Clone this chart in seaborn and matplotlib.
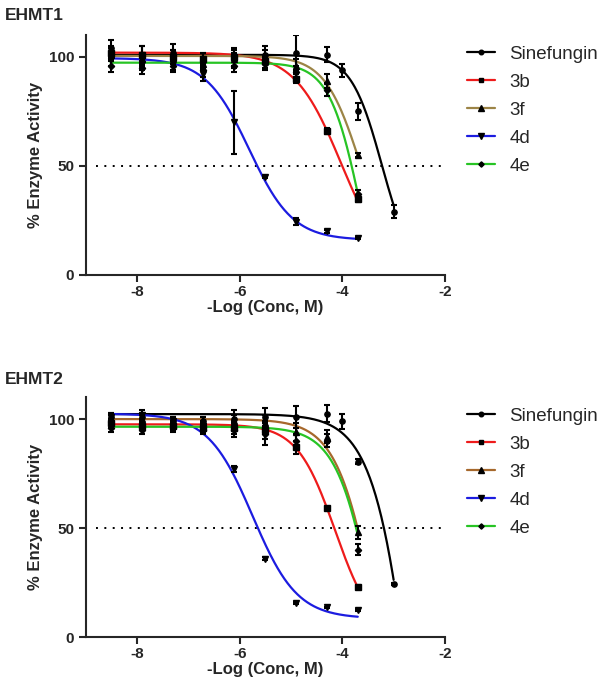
import seaborn as sns
import matplotlib.pyplot as plt
from matplotlib.lines import Line2D
import numpy as np
import pandas as pd

sns.set_style('ticks')
plt.rcParams['font.family'] = ['Liberation Sans', 'DejaVu Sans']

compounds = ['Sinefungin', '3b', '3f', '4d', '4e']
markers = ['o', 's', '^', 'v', 'D']
msizes = [3.8, 3.8, 4.2, 4.2, 3.2]

# log concentrations (M)
x_cmp = [-8.52, -7.91, -7.31, -6.71, -6.11, -5.51, -4.90, -4.30, -3.70]
x_sine = [-8.52, -7.91, -7.31, -6.71, -6.11, -5.51, -4.90, -4.30, -4.00, -3.70, -3.00]

# EHMT1 means / sd
e1_sine = [104, 100, 102, 98, 99, 101, 102, 101, 94, 75, 29]
e1_sine_sd = [4, 5, 4, 4, 4, 4, 8, 3.5, 3, 4, 3]
e1_3b = [102, 101, 100, 99, 100, 98, 90, 66, 35]
e1_3b_sd = [3, 4, 3, 3, 4, 3, 2, 1.5, 1.5]
e1_3f = [101, 99, 100, 97, 99, 100, 96, 89, 55]
e1_3f_sd = [3, 3, 3, 3, 3, 3, 3, 3, 1]
e1_4d = [99, 97, 97, 92, 70, 45, 24.5, 20, 17]
e1_4d_sd = [3, 3, 3, 3, 14.5, 0.5, 1.5, 0.8, 0.5]
e1_4e = [96, 95, 96, 94, 96, 97, 93, 85, 37]
e1_4e_sd = [3, 3, 3, 3, 3, 3, 3, 3, 2]

# EHMT2 means / sd
e2_sine = [101, 101, 99, 99, 100, 101, 101, 102.5, 99, 80.5, 24.5]
e2_sine_sd = [2, 2, 2, 2, 4, 4, 5, 4, 3.5, 1, 0.5]
e2_3b = [98, 97, 97, 96, 96, 95, 87, 59, 23]
e2_3b_sd = [2, 2, 2, 2, 3, 4, 3, 0.5, 0.8]
e2_3f = [100, 100, 99, 99, 99, 98, 94, 92, 48]
e2_3f_sd = [2, 2, 2, 2, 3, 4, 4, 3, 3]
e2_4d = [101, 102, 99, 97, 77, 36, 15.6, 13.6, 12.3]
e2_4d_sd = [2, 2, 2, 2, 1.5, 0.5, 0.3, 0.3, 0.5]
e2_4e = [96, 95, 96, 95, 95, 93, 90, 90, 40]
e2_4e_sd = [2, 2, 2, 2, 3, 5, 3, 3, 2.5]

# 4PL fit parameters (top, bottom, logIC50, hill)
e1_fit = {'Sinefungin': (101, 0, -3.23, 1.45), '3b': (102, 0, -4.02, 0.95),
          '3f': (100.5, 0, -3.64, 1.25), '4d': (99.5, 16, -5.82, 1.02),
          '4e': (97.4, -40, -3.62, 1.4)}
e2_fit = {'Sinefungin': (102.3, -300, -2.38, 1.02), '3b': (97.6, 0, -4.14, 1.17),
          '3f': (100, -100, -3.27, 1.1), '4d': (102.5, 8.5, -5.75, 1.0),
          '4e': (96.5, -100, -3.29, 1.15)}

pal1 = ['black', '#ee1b1b', '#9c8446', '#1c1ce0', '#27c424']
pal2 = ['black', '#ee1b1b', '#a6682c', '#1c1ce0', '#27c424']

panels = [
    ('EHMT1', [e1_sine, e1_3b, e1_3f, e1_4d, e1_4e],
     [e1_sine_sd, e1_3b_sd, e1_3f_sd, e1_4d_sd, e1_4e_sd], e1_fit, pal1),
    ('EHMT2', [e2_sine, e2_3b, e2_3f, e2_4d, e2_4e],
     [e2_sine_sd, e2_3b_sd, e2_3f_sd, e2_4d_sd, e2_4e_sd], e2_fit, pal2),
]


def fourpl(x, top, bottom, c, h):
    return bottom + (top - bottom) / (1 + 10 ** ((x - c) * h))


fig = plt.figure(figsize=(6.02, 6.97), dpi=100)
ax_pos = [[0.143, 0.6055, 0.596, 0.344], [0.143, 0.086, 0.596, 0.344]]
title_y = [0.978, 0.455]

for i, (name, ys, sds, fits, pal) in enumerate(panels):
    ax = fig.add_axes(ax_pos[i])

    rows = []
    for cmp in compounds:
        xs = x_sine if cmp == 'Sinefungin' else x_cmp
        xx = np.linspace(min(xs), max(xs), 300)
        for xv, yv in zip(xx, fourpl(xx, *fits[cmp])):
            rows.append([cmp, xv, yv])
    curves = pd.DataFrame(rows, columns=['compound', 'logc', 'activity'])
    sns.lineplot(data=curves, x='logc', y='activity', hue='compound',
                 palette=pal, linewidth=1.6, legend=False, ax=ax, zorder=2)

    for j, cmp in enumerate(compounds):
        xs = x_sine if cmp == 'Sinefungin' else x_cmp
        ax.errorbar(xs, ys[j], yerr=sds[j], fmt=markers[j], color='black',
                    ms=msizes[j], elinewidth=1.5, capsize=2.5, capthick=1.5, zorder=3)

    ax.plot([-8.8, -2.0], [50, 50], color='black', lw=1.4,
            linestyle=(0, (1, 3.3)), zorder=1)

    ax.set_xlim(-9, -2)
    ax.set_ylim(0, 110)
    ax.set_xticks([-8, -6, -4, -2])
    ax.set_yticks([0, 50, 100])
    ax.set_xticklabels(['-8', '-6', '-4', '-2'])
    for lab in ax.get_xticklabels() + ax.get_yticklabels():
        lab.set_fontweight('bold')
        lab.set_fontsize(11)
    ax.tick_params(width=1.5, length=5, direction='out')
    ax.tick_params(axis='x', pad=2)
    for s in ['left', 'bottom']:
        ax.spines[s].set_linewidth(1.5)
    sns.despine(ax=ax)
    ax.set_xlabel('-Log (Conc, M)', fontsize=12, fontweight='bold', labelpad=1)
    ax.set_ylabel('% Enzyme Activity', fontsize=12, fontweight='bold')

    handles = [Line2D([0], [0], color=pal[j], lw=1.6, marker=markers[j],
                      markerfacecolor='black', markeredgecolor='black',
                      ms=msizes[j] - 0.5)
               for j in range(len(compounds))]
    ax.legend(handles, compounds, loc='upper left', bbox_to_anchor=(1.015, 1.027),
              frameon=False, fontsize=13.5, handlelength=1.5, labelspacing=0.58,
              handletextpad=0.75)

    fig.text(0.008, title_y[i], name, fontsize=12.5, fontweight='bold',
             va='center', ha='left')

fig.savefig('out.png', dpi=100)
plt.close(fig)
